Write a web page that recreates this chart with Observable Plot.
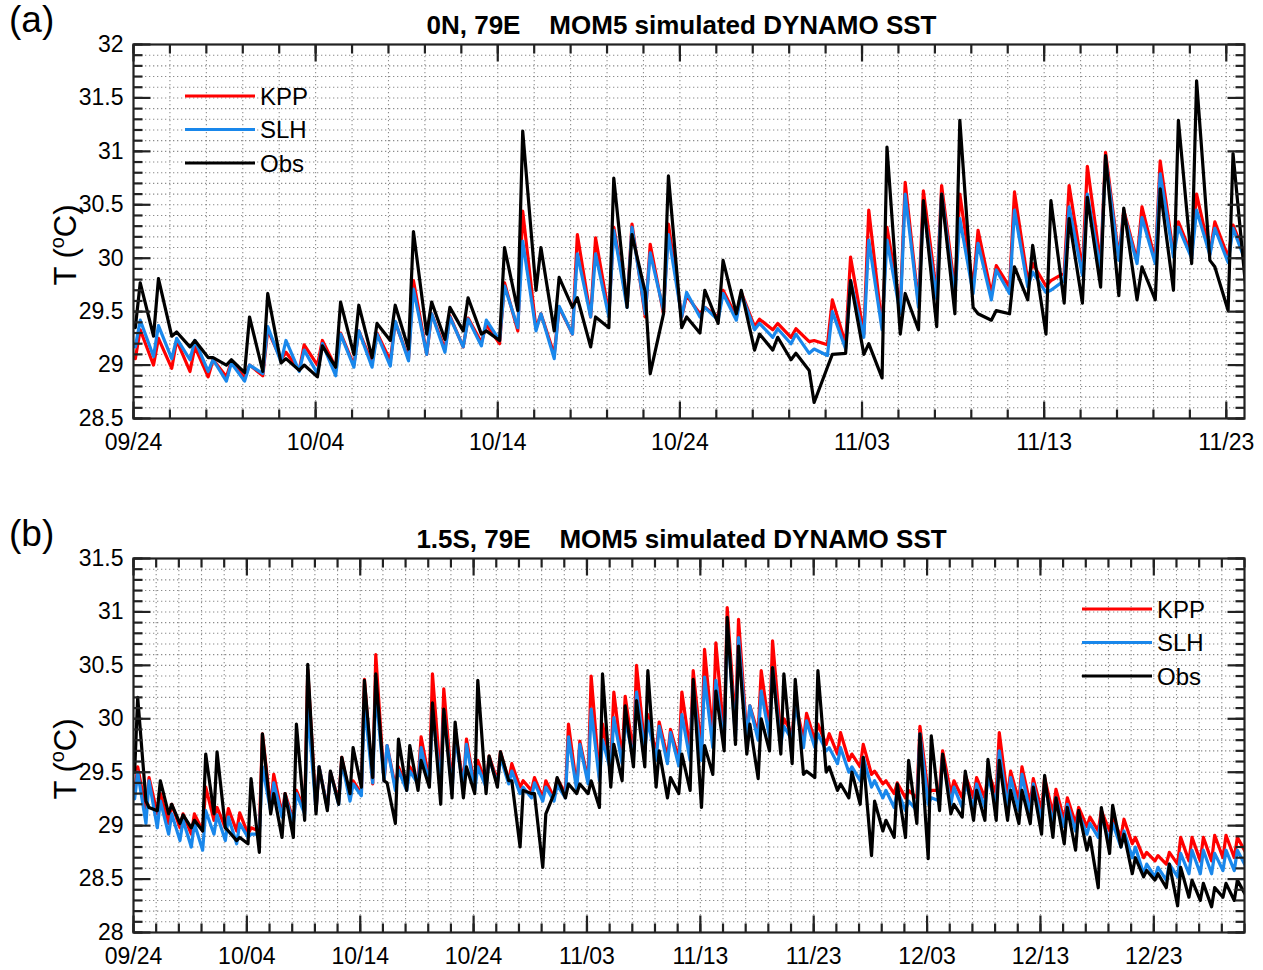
<!DOCTYPE html>
<html>
<head>
<meta charset="utf-8">
<script src="https://cdn.jsdelivr.net/npm/d3@7"></script>
<script src="https://cdn.jsdelivr.net/npm/@observablehq/plot@0.6"></script>
<style>
html,body{margin:0;padding:0;background:#fff;overflow:hidden;}
#wrap{position:relative;width:1263px;height:970px;background:#fff;}
.panel{position:absolute;left:0;width:1263px;height:485px;}
</style>
</head>
<body>
<div id="wrap"><div class="panel" id="pa" style="top:0"></div><div class="panel" id="pb" style="top:485px"></div></div>
<script>
// ---------------- DATA ----------------
const year = 2011;
const seriesNames = ["KPP", "SLH", "Obs"];

// Panel (a): 0N, 79E — one trough (early UTC morning) and one afternoon peak per day, 09/24 .. 11/23
const titleA = "0N, 79E    MOM5 simulated DYNAMO SST";
const xStartA = "09/24", xEndA = "11/24";
const xTickLabelsA = ["09/24", "10/04", "10/14", "10/24", "11/03", "11/13", "11/23"];
const yTickLabelsA = ["28.5", "29", "29.5", "30", "30.5", "31", "31.5", "32"];
const kppA_trough = [29.06,29.0,28.97,28.94,28.89,28.89,28.88,28.9,29.05,28.95,29.0,28.98,29.0,29.02,29.04,29.06,29.1,29.15,29.17,29.21,29.2,29.32,29.34,29.1,29.29,29.45,29.48,29.57,29.45,29.48,29.45,29.48,29.45,29.45,29.36,29.33,29.26,29.22,29.19,29.2,29.29,29.36,29.54,29.57,29.67,29.7,29.73,29.67,29.73,29.79,29.74,29.86,29.89,29.95,30.01,29.98,29.98,30.04,30.03,30.04,30.01,30.0];
const kppA_peak = [29.33,29.25,29.23,29.17,29.05,29.03,29.0,29.33,29.12,29.19,29.23,29.3,29.32,29.3,29.4,29.79,29.48,29.46,29.44,29.38,29.77,30.44,29.48,29.54,30.22,30.19,30.29,30.32,30.13,30.32,29.65,29.54,29.7,29.68,29.43,29.39,29.34,29.23,29.61,30.01,30.45,30.29,30.71,30.63,30.68,30.6,30.26,29.93,30.62,29.95,29.79,30.68,30.86,30.99,30.45,30.48,30.91,30.34,30.6,30.34,30.31];
const slhA_trough = [29.17,29.08,29.06,29.05,28.94,28.85,28.85,28.92,29.03,28.94,28.92,28.9,28.98,28.98,28.99,29.04,29.1,29.12,29.17,29.18,29.23,29.35,29.32,29.06,29.29,29.45,29.45,29.54,29.48,29.51,29.45,29.45,29.42,29.42,29.33,29.26,29.2,29.11,29.09,29.15,29.26,29.33,29.48,29.54,29.62,29.64,29.67,29.61,29.67,29.73,29.68,29.79,29.84,29.89,29.98,29.95,29.95,30.01,30.0,30.03,29.96,29.95];
const slhA_peak = [29.42,29.37,29.25,29.23,29.05,29.02,29.0,29.36,29.23,29.14,29.2,29.29,29.32,29.29,29.41,29.71,29.48,29.45,29.43,29.42,29.74,30.16,29.48,29.55,30.04,30.04,30.26,30.29,30.05,30.22,29.68,29.54,29.67,29.67,29.39,29.34,29.29,29.15,29.5,29.79,30.17,30.17,30.6,30.48,30.6,30.37,30.14,29.89,30.45,29.87,29.7,30.48,30.6,30.93,30.42,30.38,30.79,30.29,30.45,30.28,30.28];
const obsA_trough = [29.35,29.27,29.27,29.17,29.07,29.0,28.93,28.94,29.02,28.95,28.89,28.98,29.1,29.07,29.23,29.15,29.29,29.24,29.32,29.29,29.23,29.51,29.7,29.32,29.54,29.17,29.35,29.54,29.68,29.48,29.35,29.3,29.39,29.48,29.14,29.14,29.05,28.95,28.98,29.11,29.1,28.88,29.29,29.33,29.36,29.48,29.54,29.42,29.48,29.61,29.29,29.58,29.58,29.73,29.65,29.61,29.61,29.7,29.95,29.98,29.51,29.67];
const obsA_peak = [29.77,29.81,29.31,29.23,29.07,29.05,29.45,29.67,29.06,29.0,29.18,29.59,29.56,29.39,29.56,30.25,29.59,29.54,29.63,29.32,30.1,31.19,30.1,29.82,29.63,29.45,30.75,30.22,28.92,30.77,29.45,29.7,29.98,29.7,29.29,29.26,29.11,28.65,29.1,29.79,29.2,31.04,29.67,30.54,30.6,31.29,29.48,29.51,29.92,30.12,30.54,30.37,30.57,30.96,30.47,29.92,30.65,31.29,31.66,29.92,30.98];

// Panel (b): 1.5S, 79E — 09/24 .. 12/30
const titleB = "1.5S, 79E    MOM5 simulated DYNAMO SST";
const xStartB = "09/24", xEndB = "12/31";
const xTickLabelsB = ["09/24", "10/04", "10/14", "10/24", "11/03", "11/13", "11/23", "12/03", "12/13", "12/23"];
const yTickLabelsB = ["28", "28.5", "29", "29.5", "30", "30.5", "31", "31.5"];
const kppB_trough = [29.3,29.14,29.11,29.02,28.98,28.92,28.95,29.05,28.98,28.95,28.92,28.95,29.17,29.11,29.05,29.14,29.14,29.17,29.23,29.26,29.3,29.39,29.42,29.36,29.36,29.42,29.42,29.42,29.36,29.39,29.36,29.39,29.42,29.42,29.36,29.33,29.26,29.26,29.3,29.36,29.42,29.45,29.55,29.61,29.67,29.73,29.67,29.64,29.62,29.7,29.7,29.83,29.83,29.92,29.83,29.86,29.89,29.83,29.86,29.8,29.8,29.76,29.67,29.61,29.55,29.48,29.39,29.3,29.26,29.26,29.3,29.33,29.3,29.26,29.26,29.26,29.3,29.26,29.23,29.2,29.14,29.11,29.05,29.02,28.99,28.95,28.95,28.89,28.83,28.7,28.67,28.64,28.64,28.67,28.67,28.67,28.7,28.7,28.75];
const kppB_peak = [29.55,29.45,29.3,29.2,29.11,29.11,29.36,29.17,29.16,29.12,28.98,29.86,29.48,29.3,29.33,30.46,29.55,29.5,29.64,29.42,30.37,30.6,29.75,29.55,29.55,29.83,30.42,30.28,29.89,29.81,29.61,29.65,29.69,29.58,29.42,29.45,29.42,29.44,29.95,29.79,30.4,29.95,30.25,30.21,30.5,30.04,29.97,29.9,30.25,30.45,30.65,30.71,31.04,30.93,30.12,30.45,30.73,30.0,30.17,30.05,29.95,29.86,29.87,29.67,29.76,29.51,29.42,29.4,29.33,29.93,29.33,29.7,29.42,29.47,29.45,29.5,29.87,29.51,29.55,29.44,29.45,29.34,29.26,29.17,29.08,29.14,29.08,29.06,28.89,28.75,28.72,28.75,28.89,28.89,28.89,28.91,28.91,28.89];
const slhB_trough = [29.25,29.02,28.98,28.92,28.86,28.8,28.77,28.92,28.86,28.83,28.89,28.92,29.14,29.08,29.02,29.11,29.14,29.16,29.2,29.23,29.28,29.4,29.42,29.33,29.33,29.39,29.39,29.39,29.33,29.36,29.33,29.36,29.39,29.39,29.3,29.26,29.23,29.23,29.26,29.33,29.39,29.42,29.51,29.58,29.64,29.7,29.61,29.58,29.56,29.61,29.61,29.73,29.76,29.83,29.8,29.8,29.83,29.76,29.8,29.73,29.73,29.7,29.58,29.5,29.42,29.36,29.26,29.17,29.14,29.14,29.2,29.23,29.2,29.17,29.17,29.17,29.2,29.17,29.14,29.11,29.05,29.02,28.99,28.95,28.92,28.89,28.86,28.8,28.7,28.55,28.52,28.49,28.52,28.55,28.55,28.55,28.58,28.58,28.62];
const slhB_peak = [29.5,29.42,29.23,29.11,29.05,29.02,29.14,29.1,29.08,29.02,28.92,29.55,29.4,29.28,29.3,30.1,29.55,29.5,29.6,29.39,30.14,30.26,29.75,29.52,29.51,29.73,30.07,30.07,29.83,29.76,29.55,29.63,29.64,29.51,29.36,29.4,29.36,29.38,29.83,29.76,30.09,29.8,30.01,29.98,30.25,29.98,29.93,29.87,30.04,30.29,30.39,30.36,30.88,30.76,30.12,30.26,30.48,29.93,30.14,29.98,29.86,29.73,29.73,29.55,29.64,29.42,29.33,29.33,29.23,29.86,29.26,29.64,29.36,29.4,29.39,29.45,29.7,29.45,29.48,29.39,29.39,29.26,29.2,29.11,29.02,29.08,29.02,28.95,28.8,28.64,28.61,28.64,28.74,28.77,28.77,28.74,28.77,28.77];
const obsB_trough = [29.5,29.23,29.14,29.11,29.02,28.98,28.95,29.11,28.98,28.86,28.83,28.75,29.11,28.89,28.89,29.05,29.11,29.14,29.2,29.3,29.36,29.45,29.42,29.02,29.33,29.33,29.36,29.2,29.26,29.26,29.3,29.3,29.36,29.42,28.8,29.3,28.61,29.3,29.26,29.3,29.3,29.17,29.36,29.42,29.55,29.55,29.36,29.26,29.3,29.33,29.17,29.48,29.7,29.76,29.67,29.44,29.7,29.67,29.58,29.48,29.45,29.5,29.33,29.26,29.2,28.72,28.95,28.89,28.89,29.02,28.69,29.14,29.11,29.08,29.05,29.05,29.05,29.05,29.02,29.02,28.92,28.89,28.83,28.77,28.77,28.42,28.74,28.8,28.55,28.52,28.49,28.42,28.25,28.33,28.3,28.24,28.33,28.3,28.35];
const obsB_peak = [30.2,29.17,29.42,29.2,29.1,29.05,29.67,29.69,28.95,28.89,29.44,29.86,29.3,29.3,29.95,30.51,29.55,29.51,29.64,29.73,30.36,30.42,29.4,29.81,29.75,29.61,30.15,30.09,29.97,29.55,30.36,29.65,29.69,29.42,29.33,29.3,29.11,29.45,29.39,29.39,29.42,30.42,29.76,30.12,30.17,30.45,29.7,29.45,29.67,30.37,29.75,30.26,30.95,30.68,29.95,30.0,30.48,30.42,30.37,29.51,30.45,29.55,29.39,29.5,29.64,29.23,29.05,29.39,29.61,29.86,29.84,29.67,29.2,29.51,29.33,29.62,29.61,29.33,29.33,29.36,29.47,29.26,29.17,29.14,28.89,29.17,29.19,28.92,28.7,28.58,28.55,28.64,28.61,28.49,28.46,28.42,28.46,28.49];

// ---------------- BUILD ----------------
const DAY = 864e5;
const TROUGH_AT = 0.1, PEAK_AT = 0.37;   // fraction of a UTC day (night minimum, ~14h local maximum)
const parseDay = d3.utcParse("%Y/%m/%d");
const FONT = '"Liberation Sans", Arial, Helvetica, sans-serif';
const colors = {KPP: "#ff0000", SLH: "rgb(25,135,235)", Obs: "#000000"};

function rowsFor(series, trough, peak, t0) {
  const rows = [];
  trough.forEach((v, d) => {
    rows.push({series, t: new Date(t0 + (d + TROUGH_AT) * DAY), T: v});
    if (d < peak.length) rows.push({series, t: new Date(t0 + (d + PEAK_AT) * DAY), T: peak[d]});
  });
  return rows;
}

const tickShape = {
  bottom: {draw(c, l) { c.moveTo(0, 0); c.lineTo(0, -l); }},
  top: {draw(c, l) { c.moveTo(0, 0); c.lineTo(0, l); }},
  left: {draw(c, l) { c.moveTo(0, 0); c.lineTo(l, 0); }},
  right: {draw(c, l) { c.moveTo(0, 0); c.lineTo(-l, 0); }}
};

function makePanel(cfg) {
  const t0 = parseDay(year + "/" + cfg.xStart).getTime();
  const t1 = parseDay(year + "/" + cfg.xEnd).getTime();
  const majors = cfg.xTicks.map(s => parseDay(year + "/" + s));
  const minors = d3.range(0, Math.round((t1 - t0) / DAY) + 1, 2).map(k => new Date(t0 + k * DAY));
  const yMajor = cfg.yTicks.map(Number);
  const yMin = yMajor[0], yMax = yMajor[yMajor.length - 1];
  const yMinor = d3.range(Math.round(yMin * 10), Math.round(yMax * 10) + 1).map(v => v / 10);
  const rows = [].concat(
    rowsFor("KPP", cfg.kpp[0], cfg.kpp[1], t0),
    rowsFor("SLH", cfg.slh[0], cfg.slh[1], t0),
    rowsFor("Obs", cfg.obs[0], cfg.obs[1], t0)
  );
  const tk = {stroke: "#222", strokeWidth: 2.2, anchor: "start", strokeLinecap: "butt"};
  const grid = {stroke: "#8c8c8c", strokeOpacity: 1, strokeWidth: 1.1, strokeDasharray: "1.3,2.7"};
  const svg = Plot.plot({
    width: 1263, height: 485,
    marginLeft: 133, marginRight: 19, marginTop: cfg.mt, marginBottom: 485 - cfg.mt - 374,
    style: {fontFamily: FONT, fontSize: "23px", color: "#000", background: "#fff", overflow: "visible"},
    x: {type: "utc", domain: [new Date(t0), new Date(t1)]},
    y: {domain: [yMin, yMax]},
    marks: [
      Plot.gridX(minors, grid),
      Plot.gridY(yMinor, grid),
      ...seriesNames.map(s => Plot.line(rows.filter(r => r.series === s), {x: "t", y: "T", stroke: colors[s], strokeWidth: 3.2, clip: true})),
      Plot.frame({stroke: "#222", strokeWidth: 2.2}),
      Plot.vector(minors, {x: d => d, frameAnchor: "bottom", length: 9, shape: tickShape.bottom, ...tk}),
      Plot.vector(majors, {x: d => d, frameAnchor: "bottom", length: 17, shape: tickShape.bottom, ...tk}),
      Plot.vector(minors, {x: d => d, frameAnchor: "top", length: 9, shape: tickShape.top, ...tk}),
      Plot.vector(majors, {x: d => d, frameAnchor: "top", length: 17, shape: tickShape.top, ...tk}),
      Plot.vector(yMinor, {y: d => d, frameAnchor: "left", length: 9, shape: tickShape.left, ...tk}),
      Plot.vector(yMajor, {y: d => d, frameAnchor: "left", length: 17, shape: tickShape.left, ...tk}),
      Plot.vector(yMinor, {y: d => d, frameAnchor: "right", length: 9, shape: tickShape.right, ...tk}),
      Plot.vector(yMajor, {y: d => d, frameAnchor: "right", length: 17, shape: tickShape.right, ...tk}),
      Plot.axisX(majors, {tickSize: 0, tickPadding: 15, tickFormat: (d, i) => cfg.xTicks[i], label: null, fontSize: 23}),
      Plot.axisY(yMajor, {tickSize: 0, tickPadding: 10, tickFormat: (d, i) => cfg.yTicks[i], label: null, fontSize: 23})
    ]
  });
  const s = d3.select(svg);
  const cx = (133 + 1263 - 19) / 2;
  const cy = cfg.mt + 374 / 2;
  s.append("text").attr("x", cx - 7).attr("y", cfg.mt - 10).attr("text-anchor", "middle")
    .style("font-weight", "bold").style("font-size", "26px").style("white-space", "pre").text(cfg.title);
  s.append("text").attr("x", 9).attr("y", cfg.mt - 12).attr("text-anchor", "start").style("font-size", "37px").text(cfg.letter);
  const yl = s.append("text").attr("transform", `translate(76,${cy + 14}) rotate(-90)`).attr("text-anchor", "middle").style("font-size", "31px");
  yl.append("tspan").text("T (");
  yl.append("tspan").attr("dy", -12).style("font-size", "20px").text("o");
  yl.append("tspan").attr("dy", 12).text("C)");
  // legend
  const lg = s.append("g").attr("transform", `translate(${cfg.legend[0]},${cfg.legend[1]})`);
  seriesNames.forEach((name, i) => {
    lg.append("line").attr("x1", 0).attr("x2", 70).attr("y1", i * 33.5).attr("y2", i * 33.5)
      .attr("stroke", colors[name]).attr("stroke-width", 3.2);
    lg.append("text").attr("x", 75).attr("y", i * 33.5 + 8.5).attr("text-anchor", "start").style("font-size", "24px").text(name);
  });
  return svg;
}

document.getElementById("pa").appendChild(makePanel({
  title: titleA, letter: "(a)", xStart: xStartA, xEnd: xEndA, xTicks: xTickLabelsA, yTicks: yTickLabelsA,
  kpp: [kppA_trough, kppA_peak], slh: [slhA_trough, slhA_peak], obs: [obsA_trough, obsA_peak],
  mt: 44, legend: [185, 96]
}));
document.getElementById("pb").appendChild(makePanel({
  title: titleB, letter: "(b)", xStart: xStartB, xEnd: xEndB, xTicks: xTickLabelsB, yTicks: yTickLabelsB,
  kpp: [kppB_trough, kppB_peak], slh: [slhB_trough, slhB_peak], obs: [obsB_trough, obsB_peak],
  mt: 73, legend: [1082, 124]
}));
</script>
</body>
</html>
